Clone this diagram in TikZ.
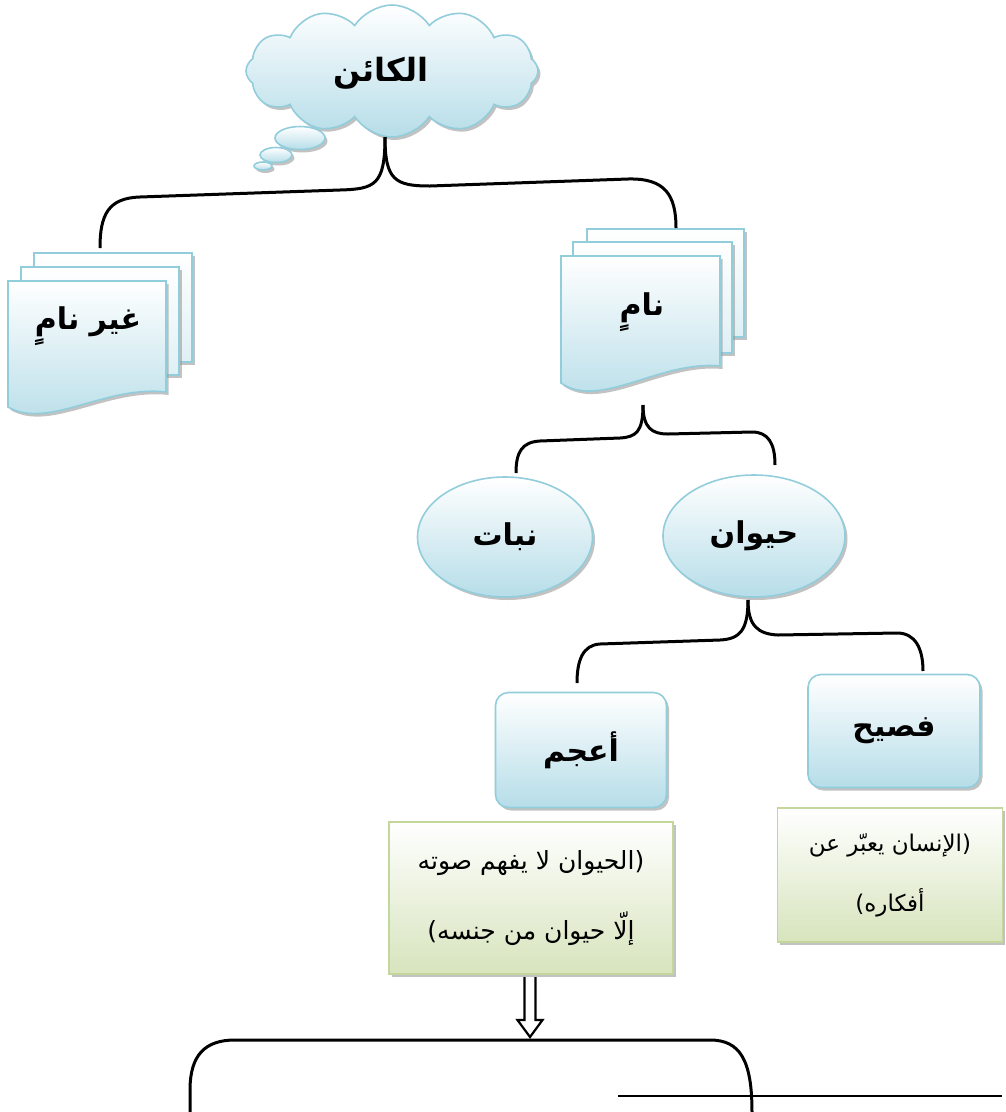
\documentclass[tikz,border=0pt]{standalone}
\usepackage{fontspec}
\newfontfamily\arabicfont[Script=Arabic]{DejaVu Sans}
\TeXXeTstate=1
\usetikzlibrary{shapes.symbols,shapes.geometric,shadows,arrows.meta,calc}
\definecolor{bord}{HTML}{92CDDC}
\definecolor{fillb}{HTML}{B6DDE8}
\definecolor{gbord}{HTML}{C3D69B}
\definecolor{gfill}{HTML}{D7E4BD}
\tikzset{
  conn/.style={line width=3pt, black},
  shadowed/.style={drop shadow={shadow xshift=2.5pt, shadow yshift=-3pt, fill=black!40, opacity=0.6}},
  bluefill/.style={draw=bord, line width=1.6pt, top color=white, bottom color=fillb},
  backpage/.style={draw=bord, line width=1.6pt, top color=white, bottom color=fillb!45},
  greenbox/.style={rectangle, draw=gbord, line width=1.6pt, top color=white, bottom color=gfill, shadowed, align=center},
  lbl/.style={font=\arabicfont\bfseries\fontsize{30}{34}\selectfont},
  txt/.style={font=\arabicfont\fontsize{25}{70}\selectfont},
}
\begin{document}
\begin{tikzpicture}[x=1pt,y=-1pt]
\useasboundingbox (0,0) rectangle (1006,1112);
% cloud
\node[cloud, cloud puffs=12, cloud puff arc=115, aspect=2.2, minimum width=292pt, minimum height=132pt,
      bluefill, shadowed, inner sep=0pt] (cloud) at (392,71) {};
\node[ellipse, minimum width=50pt, minimum height=23pt, inner sep=0pt, bluefill, shadowed] (bub1) at (300,138) {};
\node[ellipse, minimum width=32pt, minimum height=15pt, inner sep=0pt, bluefill, shadowed] (bub2) at (276,155) {};
\node[ellipse, minimum width=18pt, minimum height=8pt, inner sep=0pt, bluefill, shadowed] (bub3) at (263,166) {};
\node[lbl, font=\arabicfont\bfseries\fontsize{32}{36}\selectfont] (kain) at (381,73) {\beginR الكائن\endR};
% stack left
\draw[backpage, shadowed] (34,253) rectangle (192,362);
\draw[backpage, shadowed] (21,267) rectangle (179,375);
\draw[bluefill, shadowed] (8,281) -- (166,281) -- (166,392) .. controls (105,385) and (48,430) .. (8,407) -- cycle;
\node[lbl] (ghayr) at (88,326) {\beginR غير نامٍ\endR};
% stack right
\draw[backpage, shadowed] (587,229) rectangle (744,337);
\draw[backpage, shadowed] (573,242) rectangle (732,353);
\draw[bluefill, shadowed] (561,256) -- (720,256) -- (720,366) .. controls (660,360) and (600,410) .. (561,383) -- cycle;
\node[lbl] (nami) at (642,312) {\beginR نامٍ\endR};
% ellipses
\node[ellipse, minimum width=175pt, minimum height=120pt, bluefill, shadowed, lbl] (nabat) at (505,537) {\beginR نبات\endR};
\node[ellipse, minimum width=182pt, minimum height=122pt, bluefill, shadowed, lbl] (hayawan) at (754,536) {\beginR حيوان\endR};
% rounded boxes
\node[rectangle, rounded corners=13pt, minimum width=171pt, minimum height=115pt, bluefill, shadowed, lbl] (aajam) at (581,750) {\beginR أعجم\endR};
\node[rectangle, rounded corners=13pt, minimum width=172pt, minimum height=113pt, bluefill, shadowed, lbl] (fasih) at (894,731) {\beginR فصيح\endR};
% green boxes
\node[greenbox, minimum width=284pt, minimum height=152pt, txt] (gleft) at (531,898)
  {\beginR (الحيوان لا يفهم صوته\endR\\\beginR إلّا حيوان من جنسه)\endR};
\node[greenbox, minimum width=225pt, minimum height=134pt, txt, font=\arabicfont\fontsize{23}{60}\selectfont] (gright) at (890,875)
  {\beginR (الإنسان يعبّر عن\endR\\\beginR أفكاره)\endR};
% brace coordinates
\coordinate (b1) at (385,137);
\coordinate (b1l) at (100,248);
\coordinate (b1r) at (676,228);
\coordinate (b2) at (643,405);
\coordinate (b2l) at (516,473);
\coordinate (b2r) at (775,465);
\coordinate (b3) at (748,600);
\coordinate (b3l) at (577,683);
\coordinate (b3r) at (923,671);
\draw[conn] (b1) .. controls (385,185) and (375,189) .. (340,190) -- (140,197) .. controls (108,198) and (100,215) .. (b1l);
\draw[conn] (b1) .. controls (385,180) and (395,186) .. (430,186) -- (628,179) .. controls (665,178) and (676,195) .. (b1r);
\draw[conn] (b2) .. controls (643,432) and (636,437) .. (620,438) -- (540,441) .. controls (522,442) and (516,452) .. (b2l);
\draw[conn] (b2) .. controls (643,428) and (652,434) .. (668,434) -- (752,432) .. controls (768,432) and (775,443) .. (b2r);
\draw[conn] (b3) .. controls (748,630) and (740,639) .. (720,640) -- (600,644) .. controls (583,645) and (577,660) .. (b3l);
\draw[conn] (b3) .. controls (748,626) and (758,634) .. (778,635) -- (897,633) .. controls (915,633) and (923,648) .. (b3r);
% bottom bracket
\coordinate (bl) at (190,1112);
\coordinate (br) at (752,1112);
\coordinate (btop) at (530,1040);
\draw[conn] (bl) -- (190,1090) .. controls (190,1055) and (205,1040) .. (235,1040) -- (btop) -- (710,1040) .. controls (740,1040) and (752,1060) .. (br);
% hollow block arrow from the left text box down to the bracket
\coordinate (at) at (530,977);
\draw[line width=2.2pt, fill=white, line join=miter]
  ($(at)+(-5.5,0)$) -- ($(at)+(-5.5,43)$) -- ($(at)+(-12.5,43)$) -- ($(btop)+(0,-3)$)
  -- ($(at)+(12.5,43)$) -- ($(at)+(5.5,43)$) -- ($(at)+(5.5,0)$);
% line
\coordinate (h1) at (618,1096);
\coordinate (h2) at (1002,1096);
\draw[line width=1.6pt] (h1) -- (h2);
\end{tikzpicture}
\end{document}
